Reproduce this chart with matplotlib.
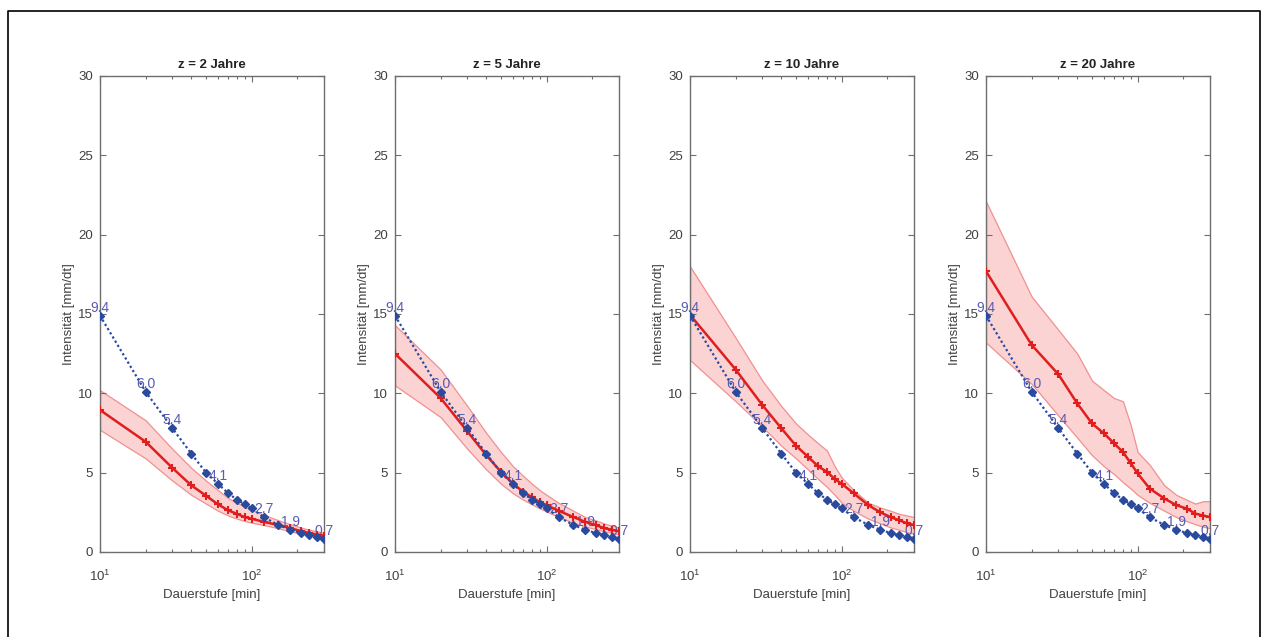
import matplotlib
matplotlib.use("Agg")
import matplotlib.pyplot as plt
from matplotlib.lines import Line2D
from matplotlib.ticker import LogLocator, NullFormatter, FixedLocator

plt.rcParams['font.family'] = ['Liberation Sans', 'DejaVu Sans']

# Durations [min]
durations = [10, 20, 30, 40, 50, 60, 70, 80, 90, 100, 120, 150, 180, 210, 240, 270, 300]

# Observed intensities (blue, same in every panel)
observed = [14.9, 10.1, 7.8, 6.2, 5.0, 4.3, 3.7, 3.3, 3.0, 2.75, 2.2, 1.7, 1.4, 1.2, 1.05, 0.95, 0.82]

# Annotation labels on the observed curve
label_durations = [10, 20, 30, 60, 120, 180, 300]
label_texts = ["9.4", "6.0", "5.4", "4.1", "2.7", "1.9", "0.7"]

titles = ["z = 2 Jahre", "z = 5 Jahre", "z = 10 Jahre", "z = 20 Jahre"]

# Modelled intensities (red) and their bands
model_z2 = [8.95, 6.95, 5.3, 4.2, 3.55, 3.0, 2.63, 2.4, 2.2, 2.1, 1.9, 1.7, 1.5, 1.33, 1.2, 1.1, 1.03]
upper_z2 = [10.2, 8.3, 6.5, 5.3, 4.5, 3.9, 3.4, 3.1, 2.85, 2.65, 2.35, 2.0, 1.75, 1.55, 1.4, 1.3, 1.2]
lower_z2 = [7.7, 5.9, 4.5, 3.6, 3.05, 2.6, 2.3, 2.1, 1.95, 1.85, 1.7, 1.5, 1.3, 1.15, 1.05, 0.95, 0.88]

model_z5 = [12.5, 9.7, 7.6, 6.1, 5.05, 4.3, 3.8, 3.45, 3.15, 2.95, 2.6, 2.2, 1.9, 1.7, 1.5, 1.4, 1.3]
upper_z5 = [14.3, 11.5, 9.2, 7.5, 6.3, 5.4, 4.8, 4.3, 3.9, 3.6, 3.1, 2.6, 2.2, 2.0, 1.8, 1.65, 1.55]
lower_z5 = [10.5, 8.5, 6.5, 5.2, 4.3, 3.7, 3.3, 3.0, 2.75, 2.55, 2.2, 1.85, 1.6, 1.45, 1.3, 1.2, 1.1]

model_z10 = [14.95, 11.5, 9.26, 7.8, 6.7, 6.0, 5.4, 5.05, 4.6, 4.3, 3.7, 2.95, 2.5, 2.2, 2.0, 1.8, 1.7]
upper_z10 = [18.0, 13.5, 10.8, 9.2, 8.1, 7.4, 6.85, 6.4, 5.4, 4.7, 3.9, 3.1, 2.8, 2.6, 2.4, 2.3, 2.2]
lower_z10 = [12.1, 9.5, 7.9, 6.7, 5.9, 5.2, 4.6, 4.1, 3.6, 3.1, 2.6, 2.1, 1.8, 1.55, 1.4, 1.25, 1.15]

model_z20 = [17.7, 13.05, 11.2, 9.36, 8.1, 7.47, 6.84, 6.3, 5.6, 4.95, 4.0, 3.37, 2.95, 2.74, 2.42, 2.3, 2.2]
upper_z20 = [22.1, 16.1, 14.0, 12.5, 10.8, 10.2, 9.7, 9.5, 8.0, 6.3, 5.5, 4.2, 3.6, 3.3, 3.05, 3.2, 3.2]
lower_z20 = [13.2, 10.6, 8.6, 7.2, 6.1, 5.4, 4.9, 4.4, 4.0, 3.6, 3.1, 2.6, 2.2, 1.95, 1.75, 1.6, 1.5]

models = [model_z2, model_z5, model_z10, model_z20]
uppers = [upper_z2, upper_z5, upper_z10, upper_z20]
lowers = [lower_z2, lower_z5, lower_z10, lower_z20]

yticks = [0, 5, 10, 15, 20, 25, 30]

W, H = 1267, 637
fig = plt.figure(figsize=(W / 100, H / 100), dpi=100)

# black page frame (left, top, right)
fx0, fx1, fy1 = 8 / W, 1260 / W, 1 - 11 / H
fig.add_artist(Line2D([fx0, fx0, fx1, fx1], [-0.01, fy1, fy1, -0.01],
                      transform=fig.transFigure, color='black', lw=1.2))

lefts_px = [100, 395, 690, 986]
width_px = 224
top_px, bottom_px = 76, 552

blue = '#2a4a9e'
red = '#e01e1e'
grey = '#6e6e6e'

for i in range(4):
    ax = fig.add_axes([lefts_px[i] / W, 1 - bottom_px / H, width_px / W, (bottom_px - top_px) / H])
    ax.fill_between(durations, lowers[i], uppers[i], facecolor='#fbd3d3', edgecolor='#f09090',
                    lw=0.9, zorder=1)
    ax.plot(durations, models[i], color=red, lw=1.8, marker='+', ms=6, mew=1.5, zorder=3)
    ax.plot(durations, observed, color=blue, lw=1.6, ls=(0, (1, 1.2)), marker='D', ms=4,
            mfc=blue, mec=blue, zorder=3.5)
    for d, t in zip(label_durations, label_texts):
        yv = observed[durations.index(d)]
        ax.text(d, yv + 0.05, t, ha='center', va='bottom', fontsize=10, color='#5a5ab4',
                zorder=2)
    ax.set_xscale('log')
    ax.set_xlim(10, 300)
    ax.set_ylim(0, 30)
    ax.set_yticks(yticks)
    ax.xaxis.set_major_locator(FixedLocator([10, 100]))
    ax.xaxis.set_minor_locator(LogLocator(base=10, subs=range(2, 10)))
    ax.xaxis.set_minor_formatter(NullFormatter())
    ax.tick_params(which='both', direction='in', top=True, right=True, colors=grey,
                   labelcolor='#404040', labelsize=9.5, width=0.8)
    ax.tick_params(which='major', length=4)
    ax.tick_params(which='minor', length=2.5)
    ax.tick_params(axis='x', which='major', pad=12)
    ax.tick_params(axis='y', which='major', pad=5)
    for s in ax.spines.values():
        s.set_color(grey)
        s.set_linewidth(1.0)
    ax.set_title(titles[i], fontsize=9.5, fontweight='bold', color='#222222', pad=6)
    ax.set_xlabel('Dauerstufe [min]', fontsize=9.5, color='#404040', labelpad=4)
    ax.set_ylabel('Intensität [mm/dt]', fontsize=9.5, color='#404040', labelpad=2)

fig.savefig('out.png', dpi=100)
